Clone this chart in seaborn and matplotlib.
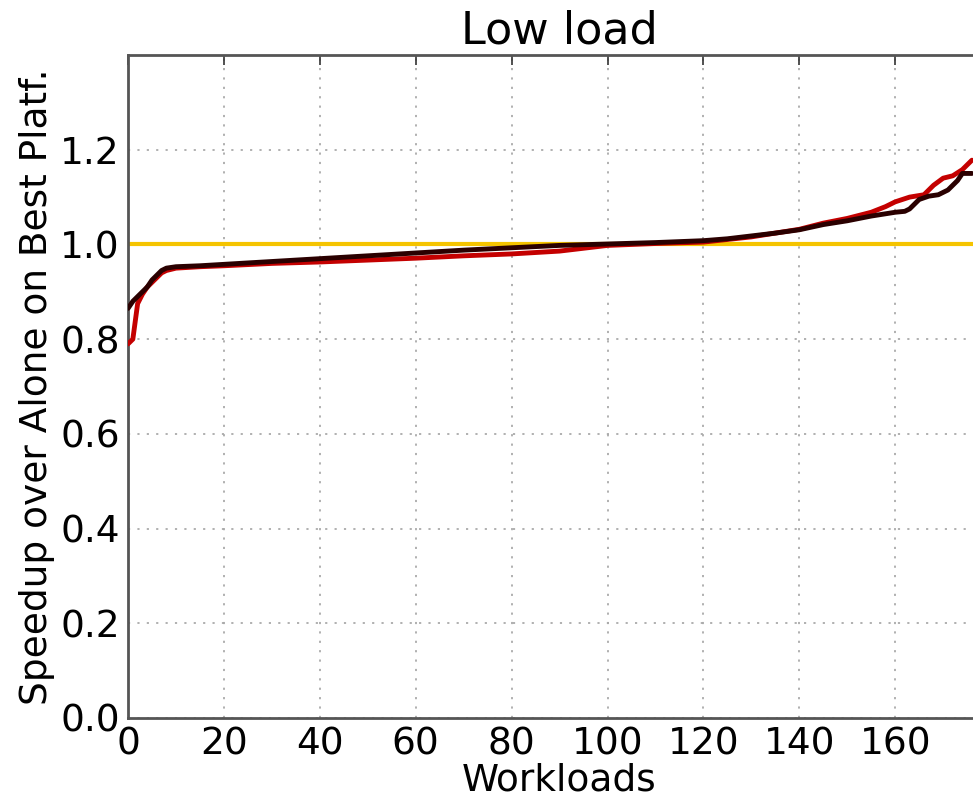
import matplotlib
matplotlib.use("Agg")
import matplotlib.pyplot as plt
import seaborn as sns

# --- data ---
black_x = [0, 1, 2, 3, 4, 5, 6, 7, 8, 10, 15, 20, 30, 40, 50, 60, 70, 80, 90,
           100, 110, 120, 125, 130, 135, 140, 145, 150, 155, 160, 162, 163,
           165, 167, 169, 171, 173, 174, 176]
black_y = [0.865, 0.88, 0.89, 0.90, 0.91, 0.925, 0.935, 0.945, 0.95, 0.953,
           0.955, 0.958, 0.964, 0.970, 0.976, 0.982, 0.988, 0.993, 0.998,
           1.001, 1.004, 1.008, 1.012, 1.018, 1.024, 1.031, 1.042, 1.050,
           1.060, 1.068, 1.070, 1.075, 1.095, 1.102, 1.105, 1.115, 1.135,
           1.15, 1.15]

red_x = [0, 1, 2, 3, 4, 5, 6, 7, 8, 10, 15, 20, 30, 40, 50, 60, 70, 80, 90,
         95, 100, 110, 120, 130, 140, 145, 150, 155, 158, 160, 163, 166, 168,
         170, 172, 174, 176]
red_y = [0.79, 0.80, 0.875, 0.895, 0.91, 0.92, 0.93, 0.94, 0.945, 0.95,
         0.953, 0.955, 0.96, 0.963, 0.967, 0.971, 0.976, 0.980, 0.986, 0.992,
         0.998, 1.002, 1.005, 1.016, 1.032, 1.045, 1.055, 1.068, 1.08, 1.09,
         1.10, 1.105, 1.125, 1.14, 1.145, 1.158, 1.178]

baseline = 1.0
x_ticks = [0, 20, 40, 60, 80, 100, 120, 140, 160]
y_ticks = [0.0, 0.2, 0.4, 0.6, 0.8, 1.0, 1.2]

sns.set_style("white")
plt.rcParams['font.family'] = ['DejaVu Sans']
plt.rcParams['text.color'] = 'black'
plt.rcParams['axes.labelcolor'] = 'black'

fig = plt.figure(figsize=(9.73, 7.98), dpi=100)
ax = fig.add_axes([0.1316, 0.1003, 0.887, 0.8307])

ax.axhline(baseline, color='#f5c400', lw=3, zorder=2)
sns.lineplot(x=red_x, y=red_y, ax=ax, color='#c40000', lw=3.5, zorder=3)
sns.lineplot(x=black_x, y=black_y, ax=ax, color='#2a0000', lw=3.5, zorder=4)

ax.set_xlim(0, 180)
ax.set_ylim(0, 1.4)
ax.set_xticks(x_ticks)
ax.set_yticks(y_ticks)
ax.set_yticklabels([f"{v:.1f}" for v in y_ticks])

ax.grid(True, linestyle=(0, (1.2, 4)), color='#aaaaaa', lw=1.3)
ax.tick_params(direction='in', top=True, right=True, length=7, width=1.2,
               labelsize=27, pad=6, color='#333333', labelcolor='black')
for s in ax.spines.values():
    s.set_color('#555555')
    s.set_linewidth(2)

ax.set_title("Low load", fontsize=32, pad=8)
ax.set_xlabel("Workloads", fontsize=27, labelpad=0)
ax.set_ylabel("Speedup over Alone on Best Platf.", fontsize=27, labelpad=4)

fig.savefig("out.png", dpi=100)
